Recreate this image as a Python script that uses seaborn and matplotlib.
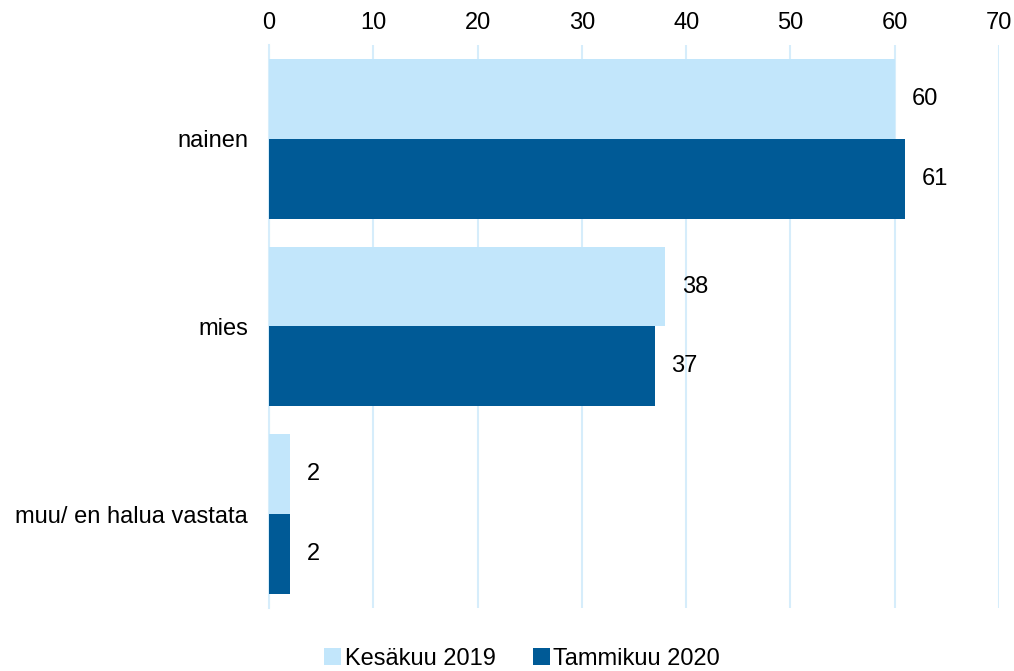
import pandas as pd
import seaborn as sns
import matplotlib.pyplot as plt

categories = ["nainen", "mies", "muu/ en halua vastata"]
series = ["Kesäkuu 2019", "Tammikuu 2020"]
kesakuu_2019 = [60, 38, 2]
tammikuu_2020 = [61, 37, 2]
x_ticks = [0, 10, 20, 30, 40, 50, 60, 70]

df = pd.DataFrame({
    "kategoria": categories * 2,
    "arvo": kesakuu_2019 + tammikuu_2020,
    "sarja": [series[0]] * 3 + [series[1]] * 3,
})

sns.set_style("white")
plt.rcParams["font.family"] = ["Liberation Sans", "DejaVu Sans"]
plt.rcParams["text.color"] = "black"
plt.rcParams["xtick.color"] = "black"
plt.rcParams["ytick.color"] = "black"

fig = plt.figure(figsize=(10.14, 6.71), dpi=100)
ax = fig.add_axes([0.2653, 0.094, 0.7199, 0.839])

sns.barplot(data=df, y="kategoria", x="arvo", hue="sarja", orient="h",
            palette=["#C2E6FB", "#005A96"], saturation=1, width=0.85,
            edgecolor="none", linewidth=0, legend=False, ax=ax, zorder=3)

ax.set_xlim(0, 70)
ax.set_ylim(2.5, -0.5)
ax.set_xticks(x_ticks)
ax.xaxis.tick_top()
ax.grid(axis="x", color="#D6EDFB", linewidth=1.5, zorder=0)
ax.grid(axis="y", visible=False)
ax.tick_params(axis="x", length=0, pad=8, labelsize=17, labelcolor="black")
ax.tick_params(axis="y", length=0, pad=15, labelsize=17, labelcolor="black")
ax.set_xlabel("")
ax.set_ylabel("")
for s in ["top", "right", "bottom"]:
    ax.spines[s].set_visible(False)
ax.spines["left"].set_color("#D6EDFB")
ax.spines["left"].set_linewidth(1.5)

for cont in ax.containers:
    ax.bar_label(cont, fmt="%d", padding=12, fontsize=17, color="black")

fig.legend(ax.containers, series, loc="lower center", bbox_to_anchor=(0.515, -0.03),
           ncol=2, frameon=False, fontsize=17, handlelength=0.7, handleheight=0.7,
           handletextpad=0.15, columnspacing=1.6)

plt.savefig("out.png", dpi=100)
